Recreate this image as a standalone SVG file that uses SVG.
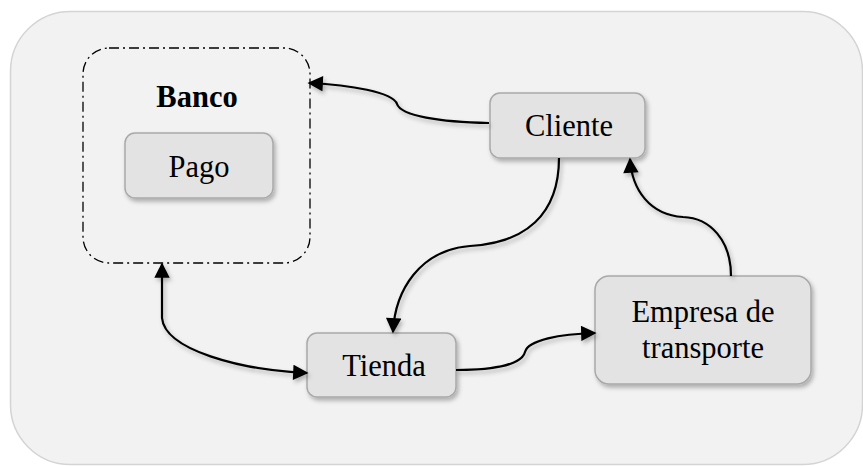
<svg xmlns="http://www.w3.org/2000/svg" width="863" height="466" viewBox="0 0 863 466">
  <defs>
    <style>
      .node rect { fill: #e3e3e3; stroke: #a9a9a9; stroke-width: 1.5; filter: url(#shadow); }
      .label { font-family: "Liberation Serif", "Times New Roman", serif; font-size: 30.5px; fill: #000; text-anchor: middle; }
      .bold { font-weight: bold; }
      .edge { fill: none; stroke: #000; stroke-width: 2.2; filter: url(#shadow); }
      .group-box { fill: none; stroke: #000; stroke-width: 1.3; stroke-dasharray: 10 4 2 4; }
    </style>
    <filter id="shadow" x="-20%" y="-20%" width="140%" height="140%">
      <feDropShadow dx="2" dy="3" stdDeviation="2.2" flood-color="#000" flood-opacity="0.28"/>
    </filter>
    <marker id="arrow" viewBox="0 0 10 10" refX="9" refY="5" markerWidth="7.5" markerHeight="7" markerUnits="strokeWidth" orient="auto-start-reverse">
      <path d="M0,0 L10,5 L0,10 z" fill="#000"/>
    </marker>
  </defs>

  <!-- background panel -->
  <rect x="10.5" y="11.5" width="852" height="453" rx="60" ry="60" fill="#f2f2f2" stroke="#d4d4d4" stroke-width="1.5"/>

  <!-- Banco group -->
  <g id="banco">
    <rect class="group-box" x="83" y="48" width="227" height="215" rx="26" ry="26"/>
    <text class="label bold" x="197" y="107">Banco</text>
  </g>

  <g id="pago" class="node">
    <rect x="125" y="133" width="148" height="65" rx="10" ry="10"/>
    <text class="label" x="199" y="177">Pago</text>
  </g>

  <g id="cliente" class="node">
    <rect x="490" y="93" width="155" height="65" rx="10" ry="10"/>
    <text class="label" x="569" y="136">Cliente</text>
  </g>

  <g id="tienda" class="node">
    <rect x="307" y="333" width="149" height="64" rx="10" ry="10"/>
    <text class="label" x="384" y="376">Tienda</text>
  </g>

  <g id="empresa" class="node">
    <rect x="595" y="276" width="216" height="108" rx="14" ry="14"/>
    <text class="label" x="703" y="322">Empresa de</text>
    <text class="label" x="703" y="358">transporte</text>
  </g>

  <!-- connectors -->
  <g id="edges">
    <path class="edge" marker-end="url(#arrow)" d="M489,123 C440,122 401,116 397,104 C393,92 350,85 309,83"/>
    <path class="edge" marker-end="url(#arrow)" d="M559,158 C559,215 525,243 470,246 C420,250 395,290 393,332"/>
    <path class="edge" marker-end="url(#arrow)" d="M731,276 C731,240 710,218 683,217 C650,215 632,190 630,159"/>
    <path class="edge" marker-end="url(#arrow)" d="M456,370 C500,370 522,363 525,352 C528,340 560,334 595,333"/>
    <path class="edge" marker-start="url(#arrow)" marker-end="url(#arrow)" d="M162,264 L162,318 C165,350 240,370 307,373"/>
  </g>
</svg>
